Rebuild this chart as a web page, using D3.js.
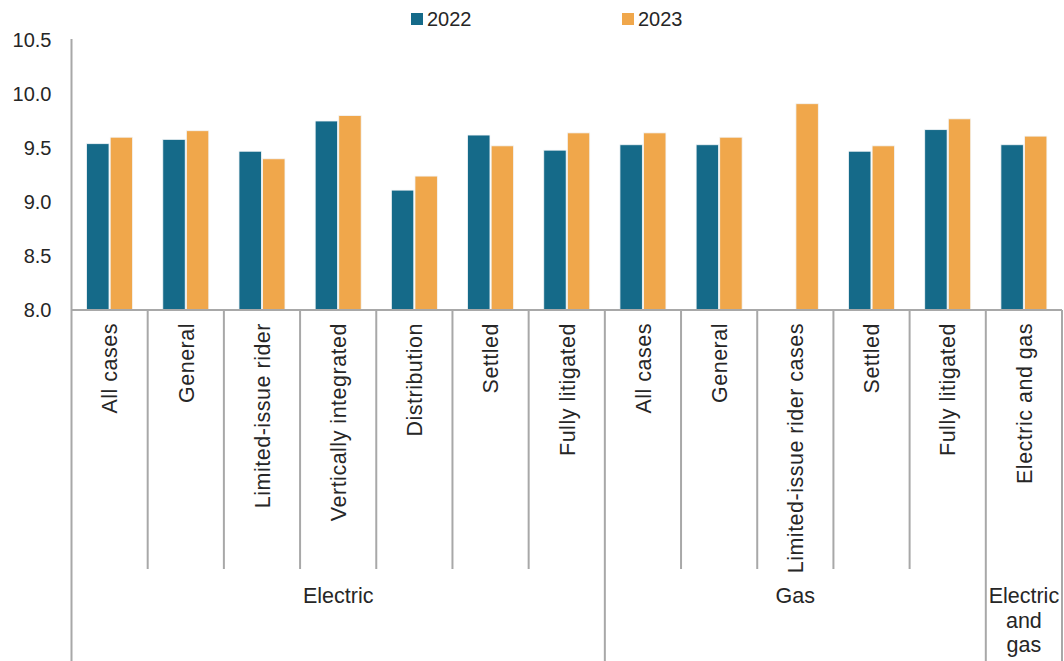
<!DOCTYPE html>
<html>
<head>
<meta charset="utf-8">
<script src="https://cdn.jsdelivr.net/npm/d3@7"></script>
<style>
  html, body { margin: 0; padding: 0; background: #ffffff; }
  svg { display: block; }
  text { font-family: "Liberation Sans", Arial, sans-serif; fill: #262626; }
</style>
</head>
<body>
<svg id="chart" width="1064" height="661"></svg>
<script>
// Authorized return on equity (%) by case type
const categories = [
  "All cases", "General", "Limited-issue rider", "Vertically integrated",
  "Distribution", "Settled", "Fully litigated",
  "All cases", "General", "Limited-issue rider cases", "Settled", "Fully litigated",
  "Electric and gas"
];
const groups = [
  { name: "Electric", count: 7 },
  { name: "Gas", count: 5 },
  { name: "Electric\nand\ngas", count: 1 }
];
const seriesNames = ["2022", "2023"];
const values2022 = [9.54, 9.58, 9.47, 9.75, 9.11, 9.62, 9.48, 9.53, 9.53, null, 9.47, 9.67, 9.53];
const values2023 = [9.60, 9.66, 9.40, 9.80, 9.24, 9.52, 9.64, 9.64, 9.60, 9.91, 9.52, 9.77, 9.61];
const yTicks = [8.0, 8.5, 9.0, 9.5, 10.0, 10.5];
const colors = ["#156a89", "#f0a74b"];

const svg = d3.select("#chart");
const W = 1064, H = 661;
const plot = { left: 71.5, right: 1062, top: 40, bottom: 310 };
const axisColor = "#a8a8a8";

const y = d3.scaleLinear().domain([8.0, 10.5]).range([plot.bottom, plot.top]);
const idx = categories.map((_, i) => i);
const x = d3.scaleBand().domain(idx).range([plot.left, plot.right]).padding(0);
const xs = d3.scaleBand().domain(seriesNames).range([-23, 23]).paddingInner(0.05);

const rows = idx.map(i => ({ i, vals: [values2022[i], values2023[i]] }));

// bars
const g = svg.append("g");
rows.forEach(r => {
  seriesNames.forEach((s, k) => {
    const v = r.vals[k];
    if (v == null) return;
    g.append("rect")
      .attr("x", x(r.i) + x.bandwidth() / 2 + xs(s))
      .attr("y", y(v))
      .attr("width", xs.bandwidth())
      .attr("height", y(8.0) - y(v))
      .attr("fill", colors[k])
      .attr("stroke", "#f3f6f8")
      .attr("stroke-width", 0.8);
  });
});

// y axis labels (no tick marks)
const yAxis = d3.axisLeft(y).tickValues(yTicks).tickFormat(d3.format(".1f")).tickSize(0).tickPadding(20);
const ya = svg.append("g").attr("transform", `translate(${plot.left},0)`).call(yAxis);
ya.select(".domain").remove();
ya.selectAll("text").attr("font-size", 20).attr("fill", "#262626")
  .style("font-family", "'Liberation Sans', Arial, sans-serif");

// axis frame lines
const lines = svg.append("g").attr("stroke", axisColor).attr("stroke-width", 2).attr("fill", "none");
lines.append("line").attr("x1", plot.left).attr("x2", plot.left).attr("y1", plot.top - 1).attr("y2", H);
lines.append("line").attr("x1", plot.left).attr("x2", plot.right).attr("y1", plot.bottom).attr("y2", plot.bottom);
lines.append("line").attr("x1", plot.right).attr("x2", plot.right).attr("y1", plot.bottom).attr("y2", H);

// category separators: short within groups, full-height between groups
const groupEnds = [];
let acc = 0;
groups.forEach(gr => { acc += gr.count; groupEnds.push(acc); });
for (let i = 1; i < categories.length; i++) {
  const xx = x(i);
  const isGroupEdge = groupEnds.includes(i);
  lines.append("line").attr("x1", xx).attr("x2", xx)
    .attr("y1", plot.bottom).attr("y2", isGroupEdge ? H : 569);
}

// rotated category labels
const labels = svg.append("g");
idx.forEach(i => {
  const cx = x(i) + x.bandwidth() / 2;
  labels.append("text")
    .attr("transform", `translate(${cx},${plot.bottom + 13}) rotate(-90)`)
    .attr("text-anchor", "end")
    .attr("dy", "0.36em")
    .attr("font-size", 21.5)
    .attr("letter-spacing", 0.5)
    .text(categories[i]);
});

// group labels
let start = 0;
groups.forEach(gr => {
  const x0 = x(start), x1 = start + gr.count < categories.length ? x(start + gr.count) : plot.right;
  const cx = (x0 + x1) / 2;
  const t = svg.append("text").attr("x", cx).attr("y", 603).attr("text-anchor", "middle").attr("font-size", 21.5);
  gr.name.split("\n").forEach((ln, j) => {
    t.append("tspan").attr("x", cx).attr("dy", j === 0 ? 0 : 24.5).text(ln);
  });
  start += gr.count;
});

// legend
const legendX = [411, 622];
seriesNames.forEach((s, k) => {
  svg.append("rect").attr("x", legendX[k]).attr("y", 13).attr("width", 12).attr("height", 12).attr("fill", colors[k]);
  svg.append("text").attr("x", legendX[k] + 16).attr("y", 26).attr("font-size", 20).text(s);
});
</script>
</body>
</html>
